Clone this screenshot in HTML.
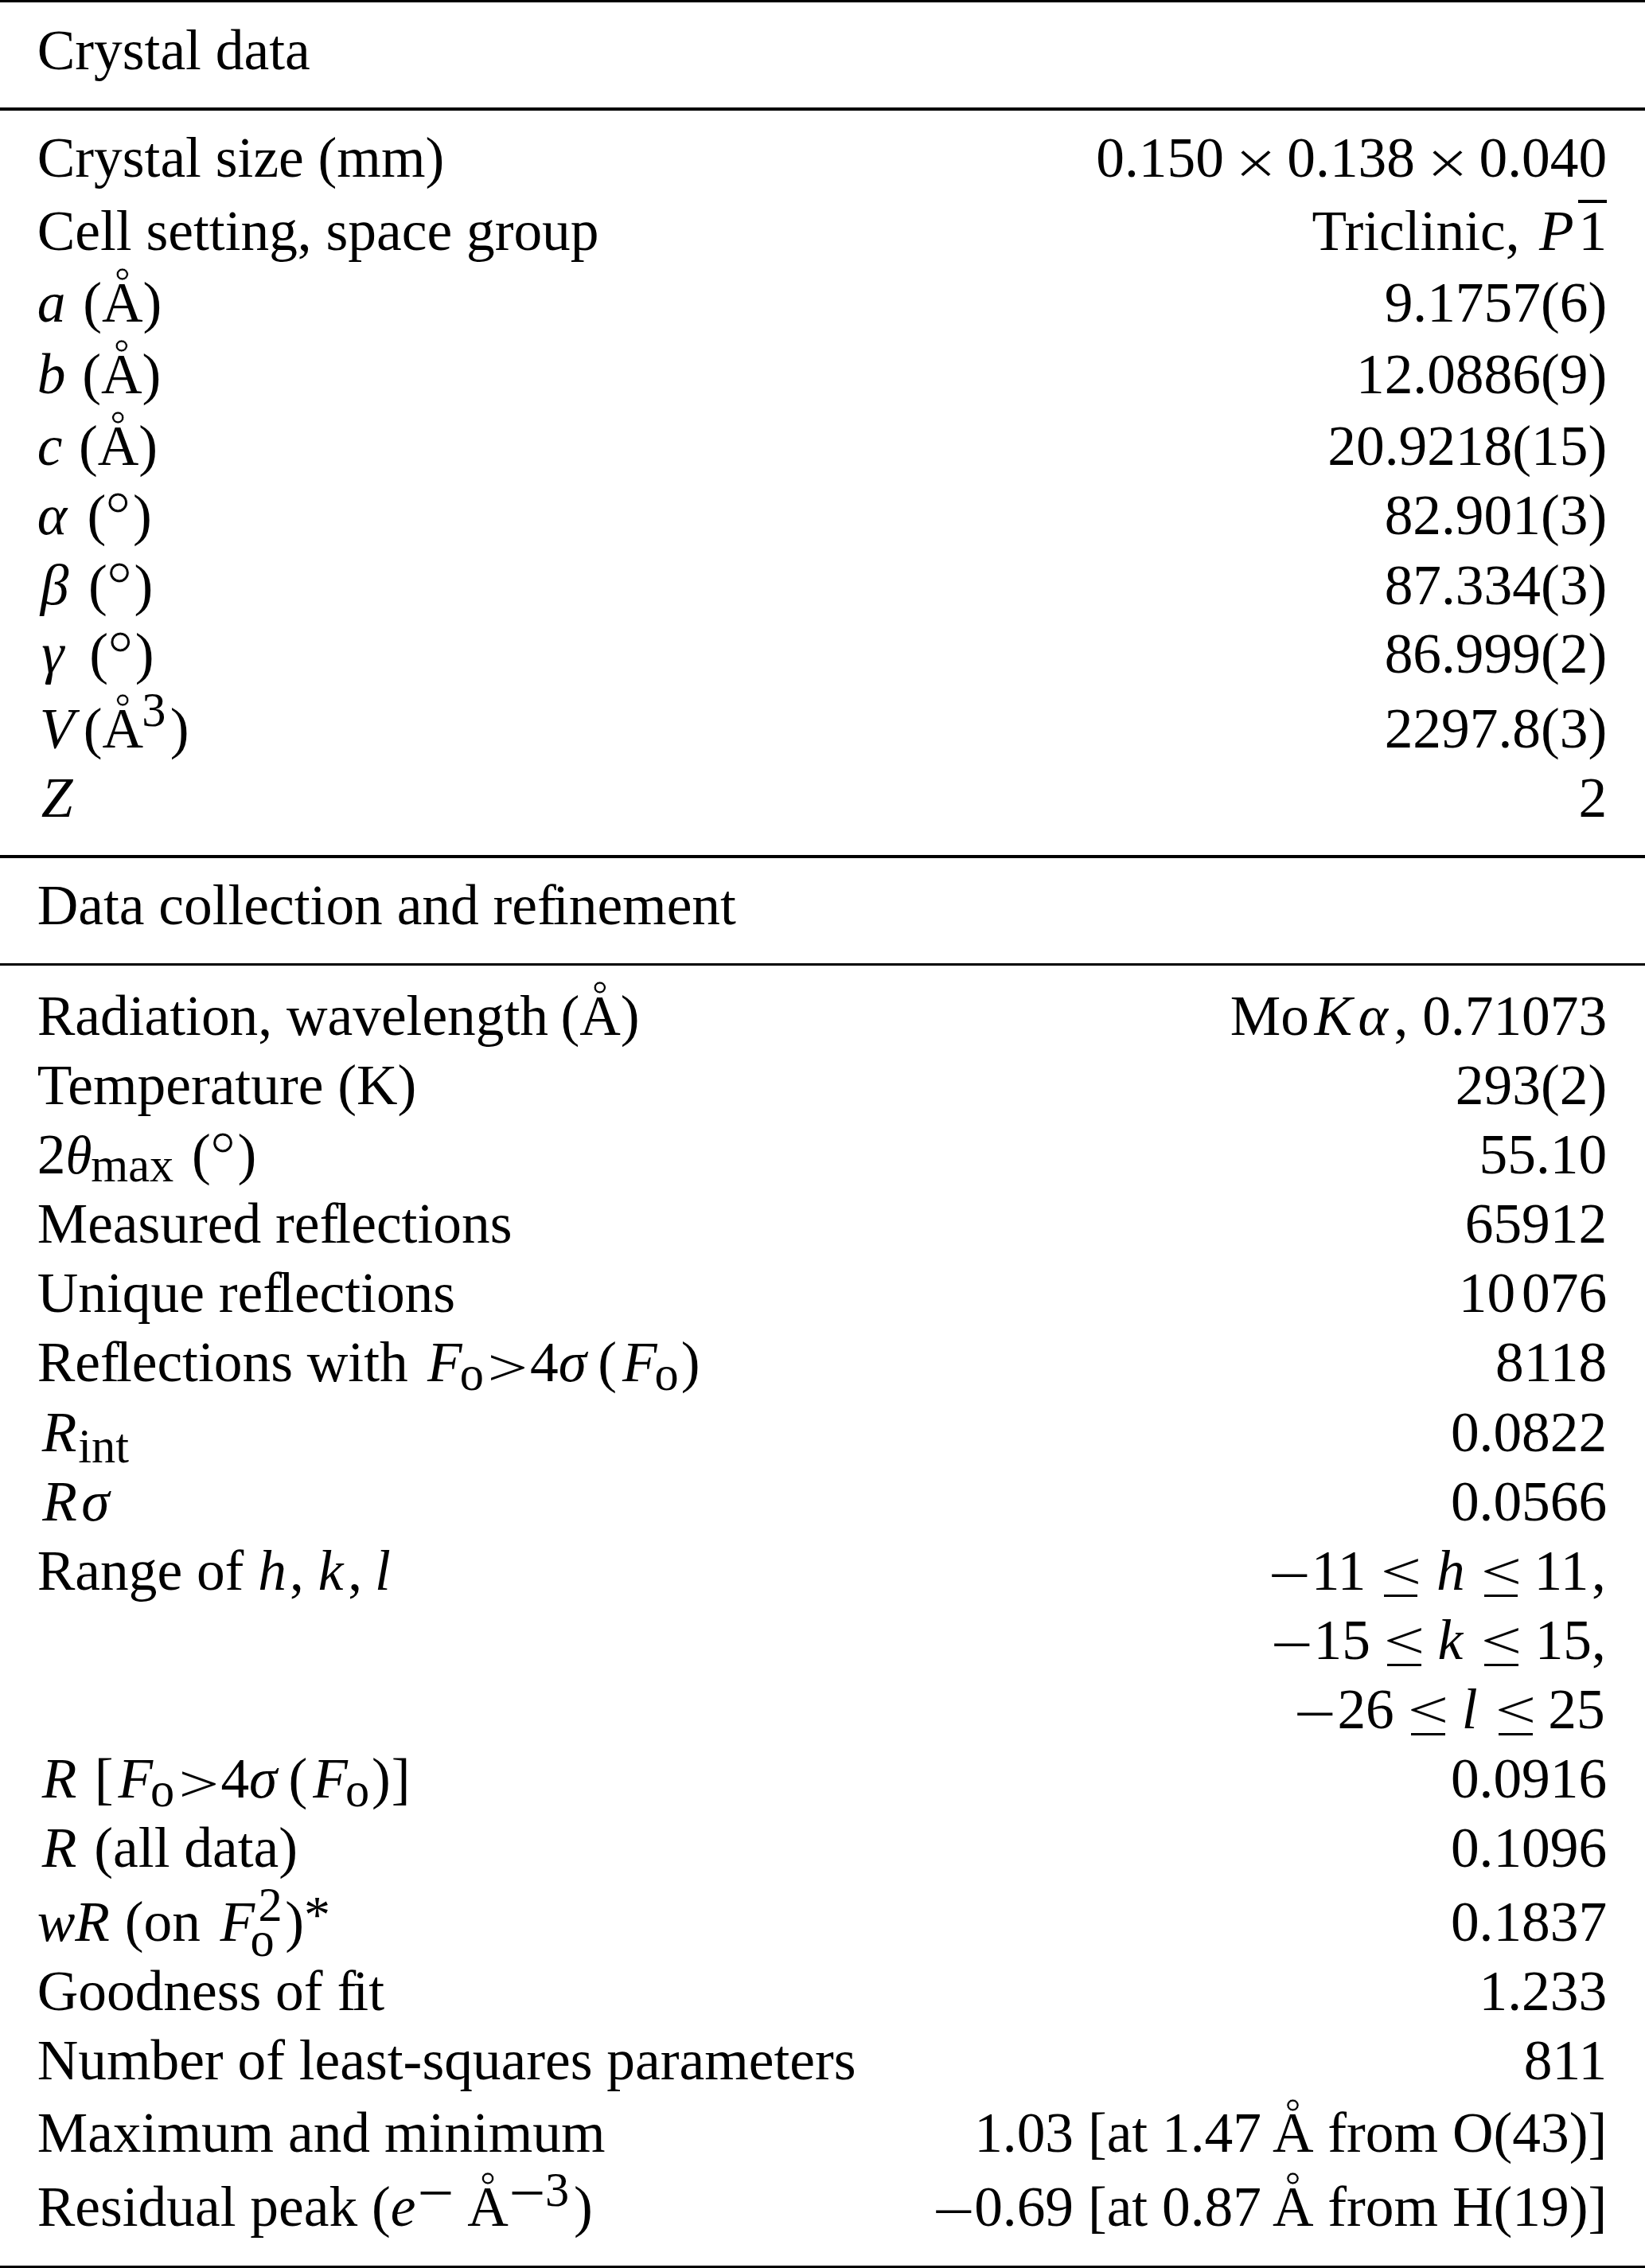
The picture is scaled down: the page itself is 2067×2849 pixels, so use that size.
<!DOCTYPE html>
<html lang="en"><head><meta charset="utf-8"><title>Crystal data</title>
<style>
html,body{margin:0;padding:0;background:#fff;}
body{width:2067px;height:2849px;position:relative;overflow:hidden;
 font-family:"Liberation Serif","DejaVu Serif",serif;font-size:71.4px;color:#000;}
.r{position:absolute;left:0;width:2067px;height:0;}
.hr{position:absolute;left:0;width:2067px;background:#000;}
.l,.v{position:absolute;top:0;white-space:nowrap;line-height:100px;height:100px;}
.l{left:46.7px;}
.v{right:47.8px;text-align:right;}
i{font-style:italic;}
.th{font-size:0.94em;line-height:0;}
.k{display:inline;}
.f{letter-spacing:-3.9px;}
.sc{font-size:60.33px;position:relative;line-height:0;}
.ss{display:inline-block;width:0;line-height:0;height:0;text-align:left;white-space:nowrap;}
.s{display:inline-block;line-height:0;height:0;text-align:left;white-space:nowrap;}
.dg{font-size:81.5px;line-height:0;position:relative;top:3.8px;-webkit-text-stroke:1px #fff;}
.rg{display:inline-block;width:0;position:relative;top:-11.7px;left:-25.9px;line-height:0;font-size:1.08em;-webkit-text-stroke:0.6px #fff;}
.ast{font-size:66px;line-height:0;position:relative;top:-11.1px;}
.le{display:inline-block;position:relative;line-height:0;height:0;text-align:left;white-space:nowrap;}
.le .g{clip-path:inset(-60px -20px -19px -20px);}
.le .b{position:absolute;top:29.98px;width:42.4px;height:3.5px;background:#000;}
.ob{display:inline-block;position:relative;line-height:0;}
.ob:before{content:"";position:absolute;left:-0.9px;width:36px;top:-38.9px;height:3.8px;background:#000;}
</style></head>
<body>
<div class="hr" style="top:0px;height:3.4px"></div>
<div class="hr" style="top:135.2px;height:3.8px"></div>
<div class="hr" style="top:1074.2px;height:3.8px"></div>
<div class="hr" style="top:1209.6px;height:3.8px"></div>
<div class="hr" style="top:2845.9px;height:4px"></div>
<div class="r" style="top:12.7px"><div class="l">Crystal data</div></div>
<div class="r" style="top:147.7px"><div class="l">Crystal size (mm)</div><div class="v">0.150<span class="k" style="margin-left:20.6px"></span><span class="s" style="width:36.7px;transform-origin:0 24.1px;transform:translate(-7.4px,10.1px) scale(1.31,1.12);-webkit-text-stroke:0.5px #fff;">×</span><span class="k" style="margin-left:22.1px"></span>0.138<span class="k" style="margin-left:22.3px"></span><span class="s" style="width:36.7px;transform-origin:0 24.1px;transform:translate(-7.4px,10.1px) scale(1.31,1.12);-webkit-text-stroke:0.5px #fff;">×</span><span class="k" style="margin-left:21.6px"></span>0.040</div></div>
<div class="r" style="top:239.6px"><div class="l">Cell setting, space group</div><div class="v">Triclinic,<span class="k" style="margin-left:6.5px"></span> <i>P</i><span class="k" style="margin-left:6px"></span><span class="ob">1</span></div></div>
<div class="r" style="top:329.5px"><div class="l"><i>a</i><span class="k" style="margin-left:4px"></span> (A<span class="rg">&#x30A;</span>)</div><div class="v">9.1757(6)</div></div>
<div class="r" style="top:419.5px"><div class="l"><i>b</i><span class="k" style="margin-left:3px"></span> (A<span class="rg">&#x30A;</span>)</div><div class="v">12.0886(9)</div></div>
<div class="r" style="top:509.7px"><div class="l"><i>c</i><span class="k" style="margin-left:2.7px"></span> (A<span class="rg">&#x30A;</span>)</div><div class="v">20.9218(15)</div></div>
<div class="r" style="top:596.7px"><div class="l"><i>α</i><span class="k" style="margin-left:7.4px"></span> (<span class="k" style="margin-left:-1.1px"></span><span class="dg">°</span><span class="k" style="margin-left:2.2px"></span>)</div><div class="v">82.901(3)</div></div>
<div class="r" style="top:684.6px"><div class="l"><span class="k" style="margin-left:4px"></span><i>β</i><span class="k" style="margin-left:7px"></span> (<span class="k" style="margin-left:-1.1px"></span><span class="dg">°</span><span class="k" style="margin-left:2.2px"></span>)</div><div class="v">87.334(3)</div></div>
<div class="r" style="top:771.1px"><div class="l"><span class="k" style="margin-left:5.5px"></span><i>γ</i><span class="k" style="margin-left:14.2px"></span> (<span class="k" style="margin-left:-1.1px"></span><span class="dg">°</span><span class="k" style="margin-left:2.2px"></span>)</div><div class="v">86.999(2)</div></div>
<div class="r" style="top:864.7px"><div class="l"><span class="k" style="margin-left:3px"></span><i>V</i><span class="k" style="margin-left:11.5px"></span>(A<span class="rg">&#x30A;</span><span class="k" style="margin-left:-2px"></span><span class="sc" style="top:-26.5px">3</span><span class="k" style="margin-left:5.5px"></span>)</div><div class="v">2297.8(3)</div></div>
<div class="r" style="top:951.5px"><div class="l"><span class="k" style="margin-left:5px"></span><i>Z</i></div><div class="v">2</div></div>
<div class="r" style="top:1086.8px"><div class="l">Data collection and re<span class="f">f</span>inement</div></div>
<div class="r" style="top:1225.9px"><div class="l">Radiation, wavelength<span class="k" style="margin-left:-2.5px"></span> (A<span class="rg">&#x30A;</span>)</div><div class="v">Mo<span class="k" style="margin-left:6.5px"></span><i>K</i><span class="k" style="margin-left:7.5px"></span><i>α</i><span class="k" style="margin-left:7.5px"></span>, 0.71073</div></div>
<div class="r" style="top:1313px"><div class="l">Temperature (K)</div><div class="v">293(2)</div></div>
<div class="r" style="top:1400.1px"><div class="l">2<i class="th">θ</i><span class="k" style="margin-left:-1px"></span><span class="sc" style="top:10.4px">max</span><span class="k" style="margin-left:5px"></span> (<span class="k" style="margin-left:-1.1px"></span><span class="dg">°</span><span class="k" style="margin-left:2.2px"></span>)</div><div class="v">55.10</div></div>
<div class="r" style="top:1487.2px"><div class="l">Measured re<span class="f">f</span>lections</div><div class="v">65912</div></div>
<div class="r" style="top:1574.3px"><div class="l">Unique re<span class="f">f</span>lections</div><div class="v">10<span class="k" style="margin-left:8px"></span>076</div></div>
<div class="r" style="top:1661.4px"><div class="l">Re<span class="f">f</span>lections with<span class="k" style="margin-left:6.5px"></span> <i>F</i><span class="k" style="margin-left:-3px"></span><span class="sc" style="top:10.6px">o</span><span class="k" style="margin-left:9.3px"></span><span class="s" style="width:41.6px;transform-origin:0 24.1px;transform:translate(-4.5px,5.2px) scale(1.26,0.92);">&gt;</span><span class="k" style="margin-left:7.3px"></span>4<i>σ</i><span class="k" style="margin-left:14.2px"></span>(<span class="k" style="margin-left:7px"></span><i>F</i><span class="k" style="margin-left:-3px"></span><span class="sc" style="top:10.6px">o</span><span class="k" style="margin-left:3px"></span>)</div><div class="v">8118</div></div>
<div class="r" style="top:1748.5px"><div class="l"><span class="k" style="margin-left:6px"></span><i>R</i><span class="k" style="margin-left:2px"></span><span class="sc" style="top:14.6px">int</span></div><div class="v">0.0822</div></div>
<div class="r" style="top:1835.6px"><div class="l"><span class="k" style="margin-left:6.5px"></span><i>R</i><span class="k" style="margin-left:5.5px"></span><i>σ</i></div><div class="v">0.0566</div></div>
<div class="r" style="top:1922.7px"><div class="l">Range of <i>h</i><span class="k" style="margin-left:4px"></span>, <i>k</i><span class="k" style="margin-left:6px"></span>,<span class="k" style="margin-left:-2px"></span> <i>l</i></div><div class="v"><span class="s" style="width:50.1px;transform-origin:0 24.1px;transform:translate(-4.7px,5.6px) scale(1.33,1);">−</span>11<span class="k" style="margin-left:22.5px"></span><span class="le" style="width:42.4px"><span class="s g" style="width:42.4px;transform-origin:0 24.1px;transform:translate(-3.8px,-0.6px) scale(1.28,0.93);">≤</span><span class="b" style="left:0px"></span></span><span class="k" style="margin-left:23.7px"></span><i>h</i><span class="k" style="margin-left:24px"></span><span class="le" style="width:42.4px"><span class="s g" style="width:42.4px;transform-origin:0 24.1px;transform:translate(-3.8px,-0.6px) scale(1.28,0.93);">≤</span><span class="b" style="left:0px"></span></span><span class="k" style="margin-left:20.5px"></span>11<span class="k" style="margin-left:3.7px"></span>,<span class="k" style="margin-left:1.3px"></span></div></div>
<div class="r" style="top:2009.8px"><div class="v"><span class="s" style="width:49.8px;transform-origin:0 24.1px;transform:translate(-4.7px,5.6px) scale(1.33,1);">−</span>15<span class="k" style="margin-left:21.5px"></span><span class="le" style="width:42.4px"><span class="s g" style="width:42.4px;transform-origin:0 24.1px;transform:translate(-3.8px,-0.6px) scale(1.28,0.93);">≤</span><span class="b" style="left:0px"></span></span><span class="k" style="margin-left:20.6px"></span><i>k</i><span class="k" style="margin-left:27.2px"></span><span class="le" style="width:42.4px"><span class="s g" style="width:42.4px;transform-origin:0 24.1px;transform:translate(-3.8px,-0.6px) scale(1.28,0.93);">≤</span><span class="b" style="left:0px"></span></span><span class="k" style="margin-left:21px"></span>15,<span class="k" style="margin-left:1.3px"></span></div></div>
<div class="r" style="top:2096.9px"><div class="v"><span class="s" style="width:50.1px;transform-origin:0 24.1px;transform:translate(-4.7px,5.6px) scale(1.33,1);">−</span>26<span class="k" style="margin-left:21.5px"></span><span class="le" style="width:42.4px"><span class="s g" style="width:42.4px;transform-origin:0 24.1px;transform:translate(-3.8px,-0.6px) scale(1.28,0.93);">≤</span><span class="b" style="left:0px"></span></span><span class="k" style="margin-left:21px"></span><i>l</i><span class="k" style="margin-left:26.6px"></span><span class="le" style="width:42.4px"><span class="s g" style="width:42.4px;transform-origin:0 24.1px;transform:translate(-3.8px,-0.6px) scale(1.28,0.93);">≤</span><span class="b" style="left:0px"></span></span><span class="k" style="margin-left:19.8px"></span>25<span class="k" style="margin-left:2.5px"></span></div></div>
<div class="r" style="top:2184.4px"><div class="l"><span class="k" style="margin-left:6px"></span><i>R</i><span class="k" style="margin-left:4.5px"></span> [<span class="k" style="margin-left:6px"></span><i>F</i><span class="k" style="margin-left:-3px"></span><span class="sc" style="top:10.6px">o</span><span class="k" style="margin-left:9.3px"></span><span class="s" style="width:41.6px;transform-origin:0 24.1px;transform:translate(-4.5px,5.2px) scale(1.26,0.92);">&gt;</span><span class="k" style="margin-left:7.3px"></span>4<i>σ</i><span class="k" style="margin-left:14.2px"></span>(<span class="k" style="margin-left:7px"></span><i>F</i><span class="k" style="margin-left:-3px"></span><span class="sc" style="top:10.6px">o</span><span class="k" style="margin-left:3px"></span>)<span class="k" style="margin-left:1px"></span>]</div><div class="v">0.0916</div></div>
<div class="r" style="top:2271.3px"><div class="l"><span class="k" style="margin-left:6px"></span><i>R</i><span class="k" style="margin-left:4.2px"></span> (all data)</div><div class="v">0.1096</div></div>
<div class="r" style="top:2364.2px"><div class="l"><i>wR</i><span class="k" style="margin-left:1px"></span> (on<span class="k" style="margin-left:6.6px"></span> <i>F</i><span class="ss"><span class="k" style="margin-left:4.5px"></span><span class="sc" style="top:-25.5px">2</span></span><span class="k" style="margin-left:-5.5px"></span><span class="sc" style="top:19.1px">o</span><span class="k" style="margin-left:13.5px"></span>)<span class="ast">*</span></div><div class="v">0.1837</div></div>
<div class="r" style="top:2451.3px"><div class="l">Goodness of <span class="f">f</span>it</div><div class="v">1.233</div></div>
<div class="r" style="top:2538.1px"><div class="l">Number of least-squares parameters</div><div class="v">811</div></div>
<div class="r" style="top:2629.2px"><div class="l">Maximum and minimum</div><div class="v">1.03 [at 1.47 A<span class="rg">&#x30A;</span> from O(43)]</div></div>
<div class="r" style="top:2722.1px"><div class="l">Residual peak (<i>e</i><span class="k" style="margin-left:6px"></span><span class="s" style="width:45px;font-size:60.33px;transform-origin:0 20.36px;transform:translate(-3.3px,-16.6px) scale(1.35,1.2);">−</span> A<span class="rg">&#x30A;</span><span class="k" style="margin-left:4px"></span><span class="s" style="width:42px;font-size:60.33px;transform-origin:0 20.36px;transform:translate(-3.3px,-16.6px) scale(1.35,1.2);">−</span><span class="sc" style="top:-25.5px">3</span><span class="k" style="margin-left:6px"></span>)</div><div class="v"><span class="s" style="width:53px;transform-origin:0 24.1px;transform:translate(0.3px,5.6px) scale(1.33,1);">−</span>0.69 [at 0.87 A<span class="rg">&#x30A;</span> from H(19)]</div></div>
</body></html>
